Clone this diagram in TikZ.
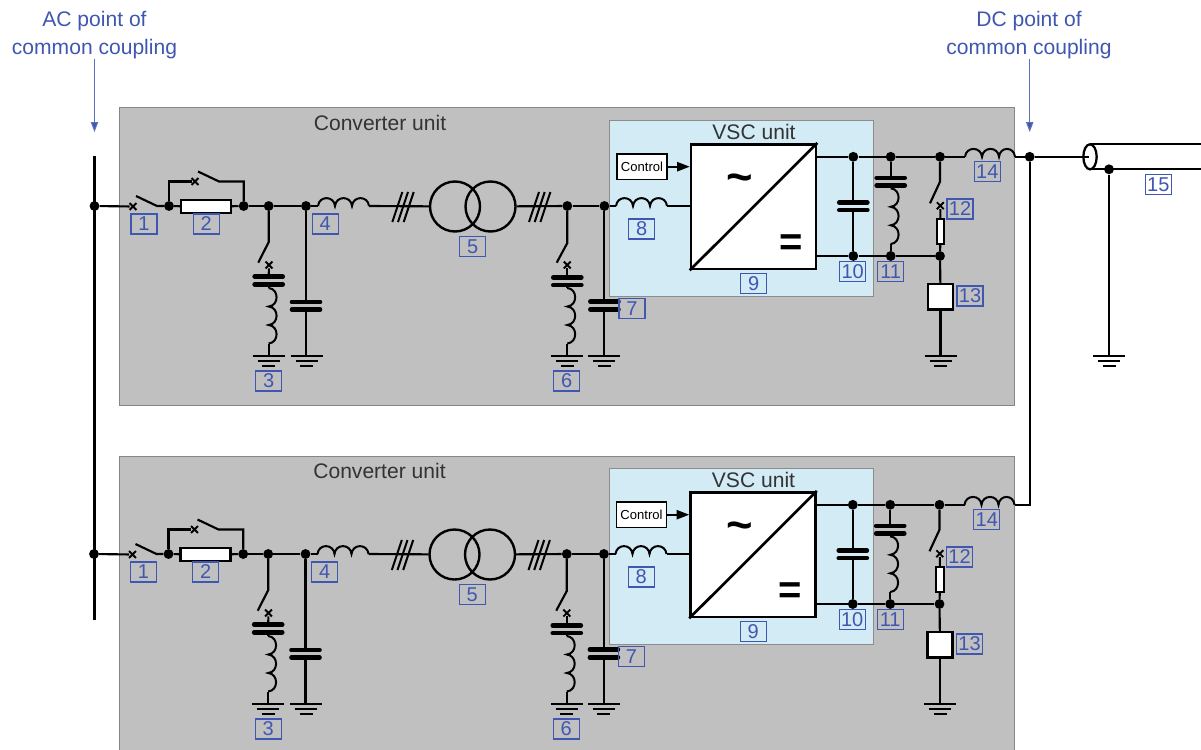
\documentclass[tikz,border=0pt]{standalone}
\usepackage{fontspec}
\setmainfont{Liberation Sans}
\usetikzlibrary{shapes.misc,shapes.geometric,arrows.meta}
\definecolor{lblue}{HTML}{3F57B0}
\definecolor{boxgray}{HTML}{C0C0C0}
\definecolor{vscblue}{HTML}{D2EBF5}
\definecolor{txtgray}{HTML}{333333}
\newcommand\fsz[1]{\fontsize{#1}{#1}\selectfont}
\tikzset{
  x=0.75pt,y=-0.75pt,
  wire/.style={draw=black,line width=1.6pt,line join=miter},
  coil/.style={draw=black,line width=1.5pt},
  junction/.style={circle,fill=black,inner sep=0pt,minimum size=7.4pt},
  xmk/.style={cross out,draw=black,line width=1.4pt,inner sep=0pt,minimum size=3.8pt},
  numbox/.style={draw=lblue,line width=0.85pt,text=lblue,font=\fsz{15},inner sep=0pt,minimum width=19.5pt,minimum height=15pt},
  plate/.style={line width=3.5pt,line cap=round,draw=black},
  gndline/.style={line width=1.6pt,draw=black},
  hashline/.style={line width=1.5pt,draw=black},
  whitebox/.style={draw=black,fill=white,inner sep=0pt},
  title/.style={text=txtgray,font=\fsz{15.8},inner sep=0pt},
  bluetext/.style={text=lblue,font=\fsz{15.8},inner sep=0pt,align=center},
  pcc/.style={draw=lblue!85,line width=0.75pt,-{Triangle[length=7.5pt,width=5.5pt,fill=lblue]}},
}
\newcommand\grnd[1]{\draw[gndline] (#1)+(-16,0)--+(16,0) (#1)+(-11,5)--+(11,5) (#1)+(-6.5,10)--+(6.5,10);}
\newcommand\hashm[1]{\draw[hashline] (#1)+(-10.7,15)--+(-0.7,-15) (#1)+(-5,15)--+(5,-15) (#1)+(0.7,15)--+(10.7,-15);}
\newcommand\capa[2]{\draw[plate] (#1)+(-#2,-3.8)--+(#2,-3.8) (#1)+(-#2,3.8)--+(#2,3.8);}
\newcommand\hcoil[2]{\draw[coil] (#1) .. controls +(1,-10.5) and +(-1,-10.5) .. ++(17,0) .. controls +(1,-10.5) and +(-1,-10.5) .. ++(17,0) .. controls +(1,-10.5) and +(-1,-10.5) .. (#2);}
\newcommand\vcoil[2]{\draw[coil] (#1) .. controls +(10.5,1) and +(10.5,-1) .. ++(0,18.5) .. controls +(10.5,1) and +(10.5,-1) .. ++(0,18.5) .. controls +(10.5,1) and +(10.5,-1) .. (#2);}
\newcommand\convunit[3]{%
\begin{scope}[shift={(#2,#3)},name prefix=#1-]
  % junctions
  \node[junction] (busdot) at (94.5,206) {};
  \node[junction] (j2a) at (169,206) {};
  \node[junction] (j2b) at (243.7,206) {};
  \node[junction] (j3) at (268.7,206) {};
  \node[junction] (j4) at (306,206) {};
  \node[junction] (j6) at (567.3,206) {};
  \node[junction] (j7) at (604.4,206) {};
  \node[junction] (t10) at (853.3,156.8) {};
  \node[junction] (t11) at (890.7,156.8) {};
  \node[junction] (t12) at (940,156.8) {};
  \node[junction] (b10) at (853.3,256) {};
  \node[junction] (b11) at (890.7,256) {};
  \node[junction] (b12) at (940,256) {};
  % breaker 1
  \node[xmk] (x1) at (133,206.5) {};
  \coordinate (s1a) at (136,196);
  \coordinate (s1b) at (157,206);
  \draw[wire] (busdot) -- (x1);
  \draw[wire] (s1a) -- (s1b) -- (j2a);
  % resistor 2 and bypass
  \node[whitebox,line width=1.6pt,minimum width=37.5pt,minimum height=9.5pt] (r2) at (206,206.7) {};
  \draw[wire] (j2a) -- (r2);
  \draw[wire] (r2) -- (j2b);
  \node[xmk] (x2) at (195,181.5) {};
  \coordinate (b2a) at (169,181.5);
  \coordinate (s2a) at (198,171.5);
  \coordinate (s2b) at (219,181.5);
  \coordinate (b2b) at (243.7,181.5);
  \draw[wire] (j2a) -- (b2a) -- (x2);
  \draw[wire] (s2a) -- (s2b) -- (b2b) -- (j2b);
  \draw[wire] (j2b) -- (j3);
  \draw[wire] (j3) -- (j4);
  % filter 3
  \coordinate (s3a) at (268.7,242);
  \coordinate (s3b) at (258.3,262.7);
  \node[xmk] (x3) at (269,265) {};
  \coordinate (c3) at (268.7,280.5);
  \coordinate (c3t) at (268.7,276.7);
  \coordinate (c3b) at (268.7,284.3);
  \coordinate (l3a) at (268.7,288);
  \coordinate (l3b) at (268.7,343.5);
  \coordinate (g3) at (268.7,356);
  \draw[wire] (j3) -- (s3a) -- (s3b);
  \draw[wire] (x3) -- (c3t);
  \capa{c3}{14}
  \draw[wire] (c3b) -- (l3a);
  \vcoil{l3a}{l3b}
  \draw[wire] (l3b) -- (g3);
  \grnd{g3}
  % shunt capacitor
  \coordinate (c4) at (306,305.8);
  \coordinate (c4t) at (306,302);
  \coordinate (c4b) at (306,309.6);
  \coordinate (g4) at (306.5,356);
  \draw[wire] (j4) -- (c4t);
  \capa{c4}{14}
  \draw[wire] (c4b) -- (c4b|-g4);
  \grnd{g4}
  % reactor 4
  \coordinate (l4a) at (318,206);
  \coordinate (l4b) at (369,206);
  \draw[wire] (j4) -- (l4a);
  \hcoil{l4a}{l4b}
  % transformer 5
  \node[circle,draw=black,line width=1.8pt,minimum size=37.5pt,inner sep=0pt] (tr1) at (455,206.5) {};
  \node[circle,draw=black,line width=1.8pt,minimum size=37.5pt,inner sep=0pt] (tr2) at (490.5,206.5) {};
  \draw[wire] (l4b) -- (tr1);
  \draw[wire] (tr2) -- (j6);
  \coordinate (h1) at (403,207);
  \coordinate (h2) at (539.7,207);
  \hashm{h1}
  \hashm{h2}
  \draw[wire] (j6) -- (j7);
  % filter 6
  \coordinate (s6a) at (567.3,243);
  \coordinate (s6b) at (556.7,262.7);
  \node[xmk] (x6) at (567.3,265) {};
  \coordinate (c6) at (567.3,281.3);
  \coordinate (c6t) at (567.3,277.5);
  \coordinate (c6b) at (567.3,285.1);
  \coordinate (l6a) at (567.3,288);
  \coordinate (l6b) at (567.3,343.5);
  \coordinate (g6) at (567.3,356);
  \draw[wire] (j6) -- (s6a) -- (s6b);
  \draw[wire] (x6) -- (c6t);
  \capa{c6}{14}
  \draw[wire] (c6b) -- (l6a);
  \vcoil{l6a}{l6b}
  \draw[wire] (l6b) -- (g6);
  \grnd{g6}
  % capacitor 7
  \coordinate (c7) at (604.4,305.5);
  \coordinate (c7t) at (604.4,301.7);
  \coordinate (c7b) at (604.4,309.3);
  \coordinate (g7) at (604.4,356);
  \draw[wire] (j7) -- (c7t);
  \capa{c7}{14}
  \draw[wire] (c7b) -- (g7);
  \grnd{g7}
  % VSC
  \node[whitebox,line width=2pt,minimum width=93.7pt,minimum height=93.5pt] (vsc) at (753.5,206.7) {};
  \draw[line width=2pt,draw=black] (vsc.south west) -- (vsc.north east);
  \node[inner sep=0pt,font=\bfseries\fsz{34}] (ac) at (740,183.5) {\symbol{126}};
  \node[inner sep=0pt,font=\bfseries\fsz{30}] (dc) at (790.7,245.5) {=};
  \coordinate (l8a) at (616,206);
  \coordinate (l8b) at (667,206);
  \draw[wire] (j7) -- (l8a);
  \hcoil{l8a}{l8b}
  \draw[wire] (l8b) -- (l8b-|vsc.west);
  \node[whitebox,line width=1pt,minimum width=37.5pt,minimum height=19pt,font=\fsz{9.8}] (ctrl) at (642,166.7) {Control};
  \draw[line width=1.2pt,-{Triangle[length=9.5pt,width=7pt]}] (ctrl) -- (ctrl-|vsc.west);
  % DC side
  \coordinate (vt) at (816,156.8);
  \coordinate (vb) at (816,256);
  \draw[wire] (vt) -- (t10);
  \draw[wire] (t10) -- (t11);
  \draw[wire] (t11) -- (t12);
  \draw[wire] (vb) -- (b10);
  \draw[wire] (b10) -- (b11);
  \draw[wire] (b11) -- (b12);
  % capacitor 10
  \coordinate (c10) at (853.3,206.3);
  \coordinate (c10t) at (853.3,202.5);
  \coordinate (c10b) at (853.3,210.1);
  \draw[wire] (t10) -- (c10t);
  \capa{c10}{14}
  \draw[wire] (c10b) -- (b10);
  % filter 11
  \coordinate (c11) at (890.7,181.7);
  \coordinate (c11t) at (890.7,177.9);
  \coordinate (c11b) at (890.7,185.5);
  \coordinate (l11a) at (890.7,188.3);
  \coordinate (l11b) at (890.7,244);
  \draw[wire] (t11) -- (c11t);
  \capa{c11}{14}
  \draw[wire] (c11b) -- (l11a);
  \vcoil{l11a}{l11b}
  \draw[wire] (l11b) -- (b11);
  % chopper 12
  \coordinate (s12a) at (940,181.7);
  \coordinate (s12b) at (930,203.3);
  \node[xmk] (x12) at (940.3,205.7) {};
  \node[whitebox,line width=1.4pt,minimum width=5.5pt,minimum height=18.5pt] (r12) at (940.5,231.7) {};
  \draw[wire] (t12) -- (s12a) -- (s12b);
  \draw[wire] (x12) -- (r12);
  \draw[wire] (r12) -- (b12);
  % block 13
  \node[whitebox,line width=1.9pt,minimum width=19pt,minimum height=19pt] (b13) at (940.5,296.7) {};
  \coordinate (g13) at (940.5,356);
  \draw[wire] (b12) -- (b13);
  \draw[wire] (b13) -- (g13);
  \grnd{g13}
  % reactor 14
  \coordinate (l14a) at (965,156.8);
  \coordinate (l14b) at (1015,156.8);
  \draw[wire] (t12) -- (l14a);
  \hcoil{l14a}{l14b}
  % titles
  \node[title] (t-conv) at (380,122.5) {Converter unit};
  \node[title] (t-vsc) at (754,132) {VSC unit};
  % numbers
  \node[numbox] (n1) at (144,224) {1};
  \node[numbox] (n2) at (206.3,224) {2};
  \node[numbox] (n3) at (268.7,381) {3};
  \node[numbox] (n4) at (325.3,224) {4};
  \node[numbox] (n5) at (472.7,246.7) {5};
  \node[numbox] (n6) at (566.7,381) {6};
  \node[numbox] (n7) at (632,308.7) {7};
  \node[numbox] (n8) at (641.7,229) {8};
  \node[numbox] (n9) at (753.7,283.7) {9};
  \node[numbox] (n10) at (852.7,271.3) {10};
  \node[numbox] (n11) at (890.7,271.3) {11};
  \node[numbox] (n12) at (960,209) {12};
  \node[numbox] (n13) at (970,296) {13};
  \node[numbox] (n14) at (987.3,171.7) {14};
\end{scope}}
\begin{document}
\begin{tikzpicture}
\useasboundingbox (0,0) rectangle (1201,749);
% backgrounds
\fill[white] (0,0) rectangle (1201,749);
\draw[draw=gray!95,fill=boxgray,line width=0.75pt] (119.5,107.5) rectangle (1014.5,405);
\begin{scope}
\clip (0,0) rectangle (1201,749);
\draw[draw=gray!95,fill=boxgray,line width=0.75pt] (119.5,456) rectangle (1014.5,760);
\end{scope}
\draw[draw=gray!90,fill=vscblue,line width=0.75pt] (609,120) rectangle (873,296);
\draw[draw=gray!90,fill=vscblue,line width=0.75pt] (609,468) rectangle (873,644);
\convunit{a}{0}{0}
\convunit{b}{-0.5}{348}
% bus
\coordinate (bustop) at (94.5,156);
\coordinate (busbot) at (94.5,620);
\draw[line width=1.8pt] (bustop) -- (busbot);
% DC point
\node[junction] (dcdot) at (1029.7,156.8) {};
\coordinate (dccorner) at (1029.7,504.8);
\draw[wire] (a-l14b) -- (dcdot);
\draw[wire] (dcdot) -- (dccorner) -- (b-l14b);
% cable
\coordinate (cabin) at (1089,156.8);
\draw[wire] (dcdot) -- (cabin);
\coordinate (cabt) at (1090,144.3);
\coordinate (cabb) at (1090,169.3);
\coordinate (cabte) at (1201,144.3);
\coordinate (cabbe) at (1201,169.3);
\draw[wire] (cabt) -- (cabte);
\draw[wire] (cabb) -- (cabbe);
\node[ellipse,draw=black,line width=1.7pt,inner sep=0pt,minimum width=10pt,minimum height=18.8pt] (cab) at (1090,156.8) {};
\node[junction] (cabdot) at (1109,169.3) {};
\coordinate (cabg) at (1109,356);
\draw[wire] (cabdot) -- (cabg);
\grnd{cabg}
\node[numbox] (n15) at (1158.3,184.3) {15};
% point of common coupling labels
\node[bluetext] (acpcc) at (94.5,35) {AC point of\\[5pt]common coupling};
\node[bluetext] (dcpcc) at (1029,35) {DC point of\\[5pt]common coupling};
\coordinate (acarr) at (94.5,132);
\coordinate (dcarr) at (1029.7,132);
\draw[pcc] (acpcc.south-|acarr) -- (acarr);
\draw[pcc] (dcpcc.south-|dcarr) -- (dcarr);
\end{tikzpicture}
\end{document}
